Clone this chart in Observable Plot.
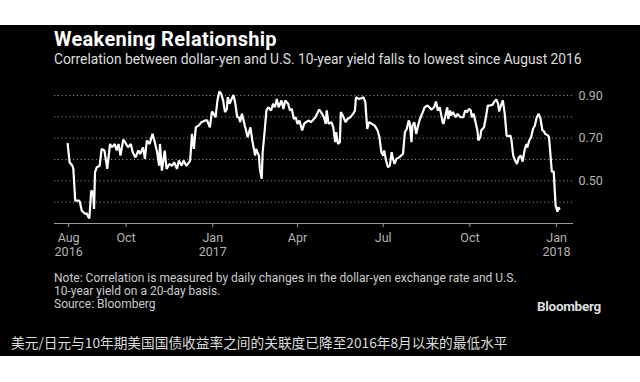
<!DOCTYPE html>
<html>
<head>
<meta charset="utf-8">
<script src="https://cdn.jsdelivr.net/npm/d3@7"></script>
<script src="https://cdn.jsdelivr.net/npm/@observablehq/plot@0.6"></script>
<style>
  body { margin:0; width:640px; height:382px; background:#fff; position:relative; overflow:hidden; font-family: Roboto, "Noto Sans", sans-serif; }
  .abs { position:absolute; white-space:nowrap; }
</style>
</head>
<body>
<div class="abs" style="left:0;top:25px;width:640px;height:331px;background:#000"></div>
<div class="abs" id="title" style="left:54px;top:27px;font-weight:bold;font-size:20px;color:#fff;letter-spacing:0.3px">Weakening Relationship</div>
<div class="abs" id="subtitle" style="left:54px;top:51px;font-size:13.8px;color:#ddd">Correlation between dollar-yen and U.S. 10-year yield falls to lowest since August 2016</div>
<div class="abs" id="chart" style="left:0;top:80px"></div>
<div class="abs" id="note" style="left:54px;top:272px;font-size:12px;line-height:13px;color:#ccc">Note: Correlation is measured by daily changes in the dollar-yen exchange rate and U.S.<br>10-year yield on a 20-day basis.<br>Source: Bloomberg</div>
<div class="abs" id="logo" style="left:537px;top:298px;font-weight:bold;font-size:13.5px;color:#ddd;letter-spacing:-0.3px">Bloomberg</div>
<div class="abs" id="caption" style="left:11px;top:332px;font-family:'Noto Sans CJK SC';font-size:13.7px;color:#ddd">美元/日元与10年期美国国债收益率之间的关联度已降至2016年8月以来的最低水平</div>
<script>
const dates = [
"2016-07-31","2016-08-02","2016-08-05","2016-08-06","2016-08-08","2016-08-12","2016-08-13","2016-08-15","2016-08-19","2016-08-20",
"2016-08-22","2016-08-23","2016-08-25","2016-08-27","2016-08-28","2016-08-29","2016-08-31","2016-09-03","2016-09-05","2016-09-08",
"2016-09-11","2016-09-14","2016-09-16","2016-09-19","2016-09-21","2016-09-23","2016-09-25","2016-09-28","2016-09-30","2016-10-03",
"2016-10-06","2016-10-08","2016-10-11","2016-10-14","2016-10-16","2016-10-19","2016-10-21","2016-10-23","2016-10-26","2016-10-29",
"2016-10-31","2016-11-03","2016-11-05","2016-11-06","2016-11-08","2016-11-11","2016-11-13","2016-11-16","2016-11-19","2016-11-21",
"2016-11-24","2016-11-26","2016-11-29","2016-12-01","2016-12-04","2016-12-07","2016-12-08","2016-12-10","2016-12-12","2016-12-14",
"2016-12-17","2016-12-20","2016-12-24","2016-12-26","2016-12-29","2016-12-31","2017-01-01","2017-01-04","2017-01-06","2017-01-08",
"2017-01-10","2017-01-12","2017-01-14","2017-01-16","2017-01-17","2017-01-19","2017-01-21","2017-01-23","2017-01-25","2017-01-27",
"2017-01-29","2017-01-30","2017-02-01","2017-02-04","2017-02-05","2017-02-07","2017-02-10","2017-02-12","2017-02-15","2017-02-16",
"2017-02-19","2017-02-20","2017-02-22","2017-02-23","2017-02-25","2017-02-27","2017-03-01","2017-03-04","2017-03-06","2017-03-08",
"2017-03-10","2017-03-12","2017-03-15","2017-03-17","2017-03-19","2017-03-22","2017-03-24","2017-03-26","2017-03-28","2017-03-30",
"2017-04-01","2017-04-03","2017-04-06","2017-04-08","2017-04-10","2017-04-13",
"2017-04-15","2017-04-17","2017-04-20","2017-04-24","2017-04-26","2017-04-29","2017-05-01","2017-05-02","2017-05-04","2017-05-07",
"2017-05-09","2017-05-11","2017-05-12","2017-05-14","2017-05-16","2017-05-17","2017-05-19","2017-05-22","2017-05-24","2017-05-27",
"2017-05-30","2017-06-01","2017-06-02","2017-06-05","2017-06-08","2017-06-10","2017-06-12","2017-06-14","2017-06-16","2017-06-19",
"2017-06-22","2017-06-25","2017-06-27","2017-06-29","2017-07-01","2017-07-02","2017-07-04","2017-07-06","2017-07-08","2017-07-10",
"2017-07-11","2017-07-13","2017-07-15","2017-07-18","2017-07-20","2017-07-22","2017-07-24","2017-07-26","2017-07-28","2017-07-29",
"2017-07-31","2017-08-01","2017-08-03","2017-08-05","2017-08-07","2017-08-09","2017-08-12","2017-08-14","2017-08-17","2017-08-19",
"2017-08-21","2017-08-24","2017-08-26","2017-08-28","2017-08-30","2017-09-02","2017-09-03","2017-09-05","2017-09-07","2017-09-08",
"2017-09-10","2017-09-11","2017-09-13","2017-09-16","2017-09-18","2017-09-21","2017-09-24","2017-09-26","2017-09-28","2017-09-30",
"2017-10-02","2017-10-03","2017-10-05","2017-10-07","2017-10-09","2017-10-10","2017-10-12","2017-10-13","2017-10-16","2017-10-18",
"2017-10-20","2017-10-22","2017-10-25","2017-10-27","2017-10-29","2017-10-31","2017-11-01","2017-11-03","2017-11-05","2017-11-07",
"2017-11-09","2017-11-11","2017-11-13","2017-11-14","2017-11-16","2017-11-18","2017-11-20","2017-11-22","2017-11-24","2017-11-26",
"2017-11-28","2017-11-30","2017-12-01","2017-12-03","2017-12-05","2017-12-07","2017-12-09","2017-12-11","2017-12-13","2017-12-15",
"2017-12-17","2017-12-18","2017-12-20","2017-12-23","2017-12-24","2017-12-27","2017-12-29","2017-12-31","2018-01-02","2018-01-03",
"2018-01-04"
];
const correlation = [
0.673,0.587,0.571,0.556,0.407,0.407,0.400,0.360,0.344,0.350,
0.330,0.324,0.454,0.446,0.368,0.540,0.564,0.571,0.650,0.642,
0.556,0.673,0.657,0.673,0.642,0.673,0.618,0.693,0.681,0.657,
0.673,0.634,0.610,0.642,0.626,0.657,0.603,0.689,0.673,0.720,
0.689,0.634,0.571,0.673,0.548,0.642,0.556,0.579,0.571,0.587,
0.556,0.595,0.571,0.595,0.571,0.587,0.595,0.720,0.650,0.751,
0.759,0.775,0.783,0.783,0.751,0.822,0.822,0.798,0.877,0.919,
0.908,0.877,0.822,0.837,0.892,0.861,0.884,0.903,0.861,0.798,
0.798,0.775,0.814,0.759,0.743,0.704,0.751,0.689,0.618,0.650,
0.618,0.556,0.509,0.634,0.728,0.830,0.845,0.830,0.861,0.845,
0.884,0.845,0.877,0.837,0.877,0.861,0.830,0.837,0.790,0.798,
0.767,0.783,0.736,0.767,0.775,0.783,
0.775,0.783,0.798,0.834,0.822,0.798,0.767,0.830,0.767,0.775,
0.751,0.681,0.728,0.673,0.681,0.822,0.806,0.775,0.790,0.798,
0.814,0.830,0.892,0.884,0.887,0.892,0.869,0.743,0.775,0.767,
0.759,0.736,0.704,0.634,0.618,0.642,0.595,0.564,0.571,0.634,
0.610,0.579,0.603,0.610,0.618,0.626,0.728,0.743,0.783,0.775,
0.681,0.759,0.775,0.720,0.759,0.790,0.822,0.845,0.853,0.845,
0.834,0.845,0.872,0.830,0.845,0.775,0.767,0.806,0.845,0.790,
0.830,0.806,0.822,0.798,0.814,0.798,0.798,0.830,0.822,0.837,
0.830,0.798,0.814,0.775,0.736,0.689,0.704,0.736,0.751,0.798,
0.853,0.853,0.856,0.872,0.881,0.861,0.826,0.853,0.877,0.814,
0.712,0.709,0.712,0.696,0.618,0.595,0.579,0.610,0.618,0.590,
0.642,0.673,0.657,0.689,0.704,0.743,0.759,0.798,0.814,0.790,
0.736,0.736,0.720,0.712,0.704,0.543,0.543,0.384,0.355,0.376,
0.369
];
const xTickDates = ["2016-08-01","2016-10-01","2017-01-01","2017-04-01","2017-07-01","2017-10-01","2018-01-01"];
const xTickLabels = ["Aug\n2016","Oct","Jan\n2017","Apr","Jul","Oct","Jan\n2018"];
const yGrid = [0.4, 0.5, 0.6, 0.7, 0.8, 0.9];
const yTickValues = [0.5, 0.7, 0.9];

const data = dates.map((d, i) => ({date: new Date(d), value: correlation[i]}));
const xTicks = xTickDates.map(d => new Date(d));

const chart = Plot.plot({
  width: 640,
  height: 190,
  marginTop: 15,
  marginBottom: 47,
  marginLeft: 54,
  marginRight: 67,
  style: {background: "transparent", color: "#b4b4b4", fontFamily: "Roboto, sans-serif", fontSize: "12.5px"},
  x: {type: "utc", domain: [new Date("2016-07-17"), new Date("2018-01-19")]},
  y: {domain: [0.3, 0.9]},
  marks: [
    Plot.ruleY(yGrid, {stroke: "#8a8a8a", strokeDasharray: "1.2,2.6", strokeWidth: 1}),
    Plot.ruleY([0.3], {stroke: "#9a9a9a", strokeWidth: 1}),
    Plot.lineY(data, {x: "date", y: "value", stroke: "#fff", strokeWidth: 2.2, strokeLinejoin: "miter"}),
    Plot.axisX({
      ticks: xTicks,
      tickFormat: d => xTickLabels[xTicks.findIndex(t => +t === +d)],
      tickSize: 4,
      tickPadding: 5,
      lineHeight: 1.1,
      stroke: "#9a9a9a",
      fill: "#b4b4b4",
      label: null
    }),
    Plot.axisY({
      anchor: "right",
      ticks: yTickValues,
      tickFormat: d3.format(".2f"),
      tickSize: 0,
      tickPadding: 5,
      fill: "#b4b4b4",
      label: null
    })
  ]
});
document.getElementById("chart").appendChild(chart);
</script>
</body>
</html>
